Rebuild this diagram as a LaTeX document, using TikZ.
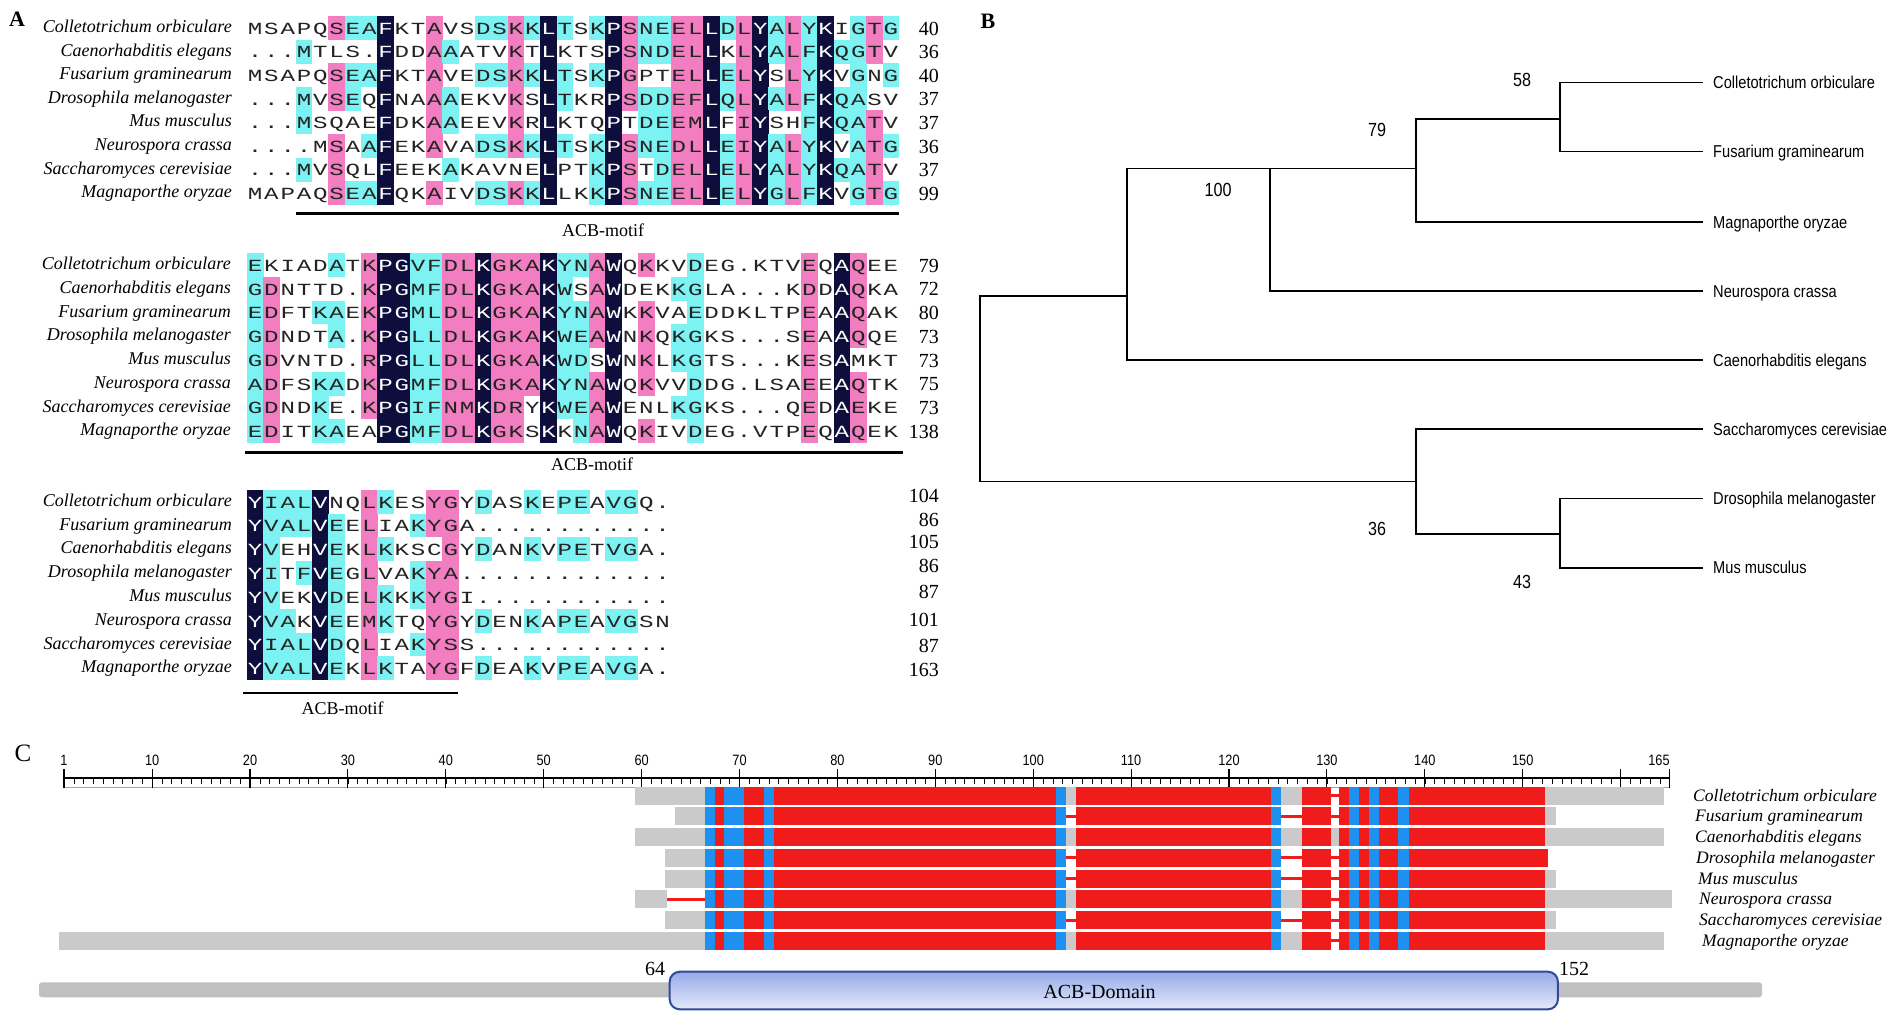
\documentclass[tikz,border=0pt]{standalone}
\usepackage{fontspec}
\setmainfont{Liberation Serif}
\newfontfamily\seqfont[FakeStretch=1.42]{Liberation Mono}
\newfontfamily\narrowsans[FakeStretch=0.85]{Liberation Sans}
\definecolor{alnavy}{RGB}{14,14,60}
\definecolor{alpink}{RGB}{242,125,192}
\definecolor{alcyan}{RGB}{125,242,242}
\definecolor{altext}{RGB}{35,35,35}
\definecolor{domred}{RGB}{240,28,28}
\definecolor{domblue}{RGB}{30,144,240}
\definecolor{domgray}{RGB}{202,202,202}
\definecolor{bargray}{RGB}{192,192,192}
\definecolor{boxtop}{RGB}{150,170,232}
\definecolor{boxbot}{RGB}{228,234,250}
\definecolor{boxedge}{RGB}{45,75,150}
\tikzset{
  seqtxt/.style={font=\seqfont\fontsize{17}{18}\selectfont, anchor=base, inner sep=0pt},
  namelbl/.style={font=\fontsize{18}{20}\selectfont\itshape, anchor=base east, inner sep=0pt},
  numlbl/.style={font=\fontsize{20}{22}\selectfont, anchor=base east, inner sep=0pt},
  motiflbl/.style={font=\fontsize{18}{20}\selectfont, anchor=base, inner sep=0pt},
  motifline/.style={line width=2.8pt},
  panellbl/.style={font=\fontsize{22}{24}\selectfont\bfseries, inner sep=0pt},
  panellblC/.style={font=\fontsize{25}{27}\selectfont, inner sep=0pt},
  treeline/.style={line width=1.7pt, line cap=rect},
  treelbl/.style={font=\narrowsans\fontsize{17.2}{19}\selectfont, anchor=base west, inner sep=0pt},
  bootlbl/.style={font=\narrowsans\fontsize{19}{21}\selectfont, inner sep=0pt},
  rulenum/.style={font=\narrowsans\fontsize{15}{17}\selectfont, inner sep=0pt},
  cname/.style={font=\fontsize{17.5}{19}\selectfont\itshape, anchor=base west, inner sep=0pt},
  domlbl/.style={font=\fontsize{20}{22}\selectfont, inner sep=0pt},
  redline/.style={domred, line width=3pt},
}
\ExplSyntaxOn
\tl_new:N \l_al_char_tl
\tl_new:N \l_al_col_tl
\NewDocumentCommand{\alrow}{m m m}
 {
  \int_step_inline:nn { \str_count:n {#2} }
   {
    \tl_set:Nx \l_al_char_tl { \str_item:nn {#2} {##1} }
    \tl_set:Nx \l_al_col_tl { \str_item:nn {#3} {##1} }
    \edef\alxl{\fp_eval:n{247+16.3*(##1-1)-0.2}}
    \edef\alxr{\fp_eval:n{247+16.3*(##1)+0.2}}
    \edef\alxc{\fp_eval:n{247+16.3*(##1-0.5)}}
    \edef\alyt{\fp_eval:n{#1-11.95}}
    \edef\alyb{\fp_eval:n{#1+11.95}}
    \edef\alybase{\fp_eval:n{#1+6.3}}
    \def\altextcol{altext}
    \str_if_eq:VnT \l_al_col_tl {n}
     { \fill[alnavy]~(\alxl,\alyt)~rectangle~(\alxr,\alyb); \def\altextcol{white} }
    \str_if_eq:VnT \l_al_col_tl {p}
     { \fill[alpink]~(\alxl,\alyt)~rectangle~(\alxr,\alyb); }
    \str_if_eq:VnT \l_al_col_tl {c}
     { \fill[alcyan]~(\alxl,\alyt)~rectangle~(\alxr,\alyb); }
    \node[seqtxt,text=\altextcol]~at~(\alxc,\alybase)~{\l_al_char_tl};
   }
 }
\ExplSyntaxOff
\begin{document}
\begin{tikzpicture}[x=1pt,y=-1pt]
\useasboundingbox (0,0) rectangle (1902,1017);
\fill[white] (0,0) rectangle (1902,1017);

% ---------------- Panel labels
\node[panellbl] (labA) at (17,19) {A};
\node[panellbl] (labB) at (988,21) {B};
\node[panellblC] (labC) at (23,753) {C};

% ---------------- Panel A, block 1
\alrow{28}{MSAPQSEAFKTAVSDSKKLTSKPSNEELLDLYALYKIGTG}{-----pccn--p--ccpcnc-cnpccppncpncpcn-cpc}
\alrow{51.6}{...MTLS.FDDAAATVKTLKTSPSNDELLKLYALFKQGTV}{---c----n--pc---p-n---npccppn-pncpcnccp-}
\alrow{75.2}{MSAPQSEAFKTAVEDSKKLTSKPGPTELLELYSLYKVGNG}{-----pccn--p--ccpcnc-cnp--ppncpn-pcn-c-c}
\alrow{98.8}{...MVSEQFNAAAEKVKSLTKRPSDDEFLQLYALFKQASV}{---c-pc-n--pc---p-nc--npccppncpncpcncc--}
\alrow{122.4}{...MSQAEFDKAAEEVKRLKTQPTDEEMLFIYSHFKQATV}{---c----n--pc---p-n---n-ccppn-pn--cnccp-}
\alrow{146}{....MSAAFEKAVADSKKLTSKPSNEDLLEIYALYKVATG}{-----p-cn--p--ccpcnc-cnpccppncpncpcn-cpc}
\alrow{169.6}{...MVSQLFEEKAKAVNELPTKPSTDELLELYALYKQATV}{---c-p--n---c-----n--cnp-cppncpncpcnccp-}
\alrow{193.2}{MAPAQSEAFQKAIVDSKKLLKKPSNEELLELYGLFKVGTG}{-----pccn--p--ccpcn--cnpccppncpncpcn-cpc}
\foreach \y/\nm [count=\k] in {28/Colletotrichum orbiculare, 51.6/Caenorhabditis elegans, 75.2/Fusarium graminearum, 98.8/Drosophila melanogaster, 122.4/Mus musculus, 146/Neurospora crassa, 169.6/Saccharomyces cerevisiae, 193.2/Magnaporthe oryzae}
  {\node[namelbl] (nmA\k) at (232,\y+4.5) {\nm};}
\foreach \y/\n [count=\k] in {28/40, 51.6/36, 75.2/40, 98.8/37, 122.4/37, 146/36, 169.6/37, 193.2/99}
  {\node[numlbl] (numA\k) at (939,\y+7) {\n};}
\coordinate (ulA1) at (296,213.3);
\coordinate (ulA2) at (899,213.3);
\draw[motifline] (ulA1) -- (ulA2);
\node[motiflbl] (motA) at (603,236.5) {ACB-motif};

% ---------------- Panel A, block 2
\alrow{265}{EKIADATKPGVFDLKGKAKYNAWQKKVDEG.KTVEQAQEE}{c----c-pnnccppnpppnccpn-p--c------p-np--}
\alrow{288.75}{GDNTTD.KPGMFDLKGKAKWSAWDEKKGLA...KDDAQKA}{cp-----pnnccppnpppnc-pn---cc------p-np--}
\alrow{312.5}{EDFTKAEKPGMLDLKGKAKYNAWKKVAEDDKLTPEAAQAK}{cp--cc-pnnccppnpppnccpn-p--c------p-np--}
\alrow{336.25}{GDNDTA.KPGLLDLKGKAKWEAWNKQKGKS...SEAAQQE}{cp---c-pnnccppnpppnccpn-p-cc------p-np--}
\alrow{360}{GDVNTD.RPGLLDLKGKAKWDSWNKLKGTS...KESAMKT}{cp-----pnnccppnpppncc-n-p-cc------p-n---}
\alrow{383.75}{ADFSKADKPGMFDLKGKAKYNAWQKVVDDG.LSAEEAQTK}{cp--cc-pnnccppnpppnccpn-p--c------p-np--}
\alrow{407.5}{GDNDKE.KPGIFNMKDRYKWEAWENLKGKS...QEDAEKE}{cp--c--pnnccppnpp-nccpn---cc------p-np--}
\alrow{431.25}{EDITKAEAPGMFDLKGKSKKNAWQKIVDEG.VTPEQAQEK}{cp--cc--nnccppnpp-n-cpn-p--c------p-np--}
\foreach \y/\nm [count=\k] in {265/Colletotrichum orbiculare, 288.75/Caenorhabditis elegans, 312.5/Fusarium graminearum, 336.25/Drosophila melanogaster, 360/Mus musculus, 383.75/Neurospora crassa, 407.5/Saccharomyces cerevisiae, 431.25/Magnaporthe oryzae}
  {\node[namelbl] (nmB\k) at (231,\y+4.5) {\nm};}
\foreach \y/\n [count=\k] in {265/79, 288.75/72, 312.5/80, 336.25/73, 360/73, 383.75/75, 407.5/73, 431.25/138}
  {\node[numlbl] (numB\k) at (939,\y+7) {\n};}
\coordinate (ulB1) at (245,452.7);
\coordinate (ulB2) at (903,452.7);
\draw[motifline] (ulB1) -- (ulB2);
\node[motiflbl] (motB) at (592,470) {ACB-motif};

% ---------------- Panel A, block 3
\alrow{501.7}{YIALVNQLKESYGYDASKEPEAVGQ.}{ncccn--pc--pp-c--c-cc-cc--}
\alrow{525.5}{YVALVEELIAKYGA............}{ncccnc-p--cpp-------------}
\alrow{549.3}{YVEHVEKLKKSCGYDANKVPETVGA.}{nc--nc-pc---p-c--c-cc-cc--}
\alrow{573.1}{YITFVEGLVAKYA.............}{nc-cnc-p--cpp-------------}
\alrow{596.9}{YVEKVDELKKKYGI............}{nc--nc-pc-cpp-------------}
\alrow{620.7}{YVAKVEEMKTQYGYDENKAPEAVGSN}{ncc-nc-pc--pp-c--c-cc-cc--}
\alrow{644.5}{YIALVDQLIAKYSS............}{ncccnc-p--cpp-------------}
\alrow{668.3}{YVALVEKLKTAYGFDEAKVPEAVGA.}{ncccnc-pc--pp-c--c-cc-cc--}
\foreach \y/\nm [count=\k] in {501.7/Colletotrichum orbiculare, 525.5/Fusarium graminearum, 549.3/Caenorhabditis elegans, 573.1/Drosophila melanogaster, 596.9/Mus musculus, 620.7/Neurospora crassa, 644.5/Saccharomyces cerevisiae, 668.3/Magnaporthe oryzae}
  {\node[namelbl] (nmC\k) at (232,\y+4.5) {\nm};}
\foreach \y/\n [count=\k] in {502/104, 526/86, 548.3/105, 572.7/86, 598.3/87, 626/101, 652.7/87, 676.7/163}
  {\node[numlbl] (numC\k) at (939,\y) {\n};}
\coordinate (ulC1) at (243,693);
\coordinate (ulC2) at (458,693);
\draw[motifline] (ulC1) -- (ulC2);
\node[motiflbl] (motC) at (342.5,714.5) {ACB-motif};

% ---------------- Panel B, tree
\coordinate (nR) at (980,388.8);
\coordinate (nA) at (1127,296);
\coordinate (nB) at (1270,168.6);
\coordinate (nC) at (1416,168.6);
\coordinate (nD) at (1560,119);
\coordinate (nE) at (1416,481.6);
\coordinate (nF) at (1560,533.7);
\coordinate (lCo) at (1702,82.5);
\coordinate (lFu) at (1702,151.6);
\coordinate (lMa) at (1702,222);
\coordinate (lNe) at (1702,291);
\coordinate (lCa) at (1702,360);
\coordinate (lSa) at (1702,429);
\coordinate (lDr) at (1702,498.5);
\coordinate (lMu) at (1702,567.7);
\draw[treeline] (nA) -| (nR) |- (nE);
\draw[treeline] (nB) -| (nA) |- (lCa);
\draw[treeline] (nC) -- (nB) |- (lNe);
\draw[treeline] (nD) -| (nC) |- (lMa);
\draw[treeline] (lCo) -| (nD) |- (lFu);
\draw[treeline] (lSa) -| (nE) |- (nF);
\draw[treeline] (lDr) -| (nF) |- (lMu);
\node[treelbl] (tCo) at (1713,88.5) {Colletotrichum orbiculare};
\node[treelbl] (tFu) at (1713,157.6) {Fusarium graminearum};
\node[treelbl] (tMa) at (1713,228) {Magnaporthe oryzae};
\node[treelbl] (tNe) at (1713,297) {Neurospora crassa};
\node[treelbl] (tCa) at (1713,366) {Caenorhabditis elegans};
\node[treelbl] (tSa) at (1713,435) {Saccharomyces cerevisiae};
\node[treelbl] (tDr) at (1713,504.5) {Drosophila melanogaster};
\node[treelbl] (tMu) at (1713,573.7) {Mus musculus};
\node[bootlbl] (b58) at (1522,80) {58};
\node[bootlbl] (b79) at (1377,130) {79};
\node[bootlbl] (b100) at (1218,190) {100};
\node[bootlbl] (b36) at (1377,529) {36};
\node[bootlbl] (b43) at (1522,582) {43};

% ---------------- Panel C, ruler
\draw[line width=1.1pt] (64,778) -- (1669.6,778);
\draw[line width=0.5pt, black!35] (64,787.5) -- (1669.6,787.5);
\foreach \u in {1,...,165} {\draw[line width=0.55pt] ({64+(\u-1)*9.79},778) -- ++(0,6);}
\foreach \u in {10,20,...,160} {\draw[line width=1.1pt] ({64+(\u-1)*9.79},769) -- ++(0,19);}
\draw[line width=1.1pt] (64,769) -- ++(0,19);
\draw[line width=1.1pt] (1669.6,769) -- ++(0,19);
\node[rulenum] (r1) at (64,760) {1};
\foreach \u in {10,20,...,150} {\node[rulenum] (r\u) at ({64+(\u-1)*9.79},760) {\u};}
\node[rulenum] (r165) at (1659,760) {165};

% ---------------- Panel C, domain bars
\foreach \i/\gS/\gE/\gA/\gC in {0/635/1664/1/0, 1/675/1556/0/0, 2/635/1664/1/1, 3/665/0/0/0, 4/665/1556/0/0, 5/635/1672/1/0, 6/665/1556/0/0, 7/59/1664/1/0}{
  \pgfmathsetmacro\yt{786.5+20.75*\i}
  \pgfmathsetmacro\yb{\yt+18}
  \pgfmathsetmacro\yc{\yt+9}
  \ifnum\i=5
    \fill[domgray] (635,\yt) rectangle (667,\yb);
    \draw[redline] (667,\yc) -- (705,\yc);
  \else
    \fill[domgray] (\gS,\yt) rectangle (705,\yb);
  \fi
  \ifnum\gE>0 \fill[domgray] (1545,\yt) rectangle (\gE,\yb); \fi
  \foreach \a/\b in {715/724, 744/764, 774/1056, 1076/1271, 1302/1331, 1339/1349, 1359/1369, 1379/1398, 1409/1545}
    {\fill[domred] (\a-0.2,\yt) rectangle (\b+0.2,\yb);}
  \ifnum\i=3 \fill[domred] (1544,\yt) rectangle (1547.5,\yb); \fi
  \foreach \a/\b in {705/715, 724/744, 764/774, 1056/1066, 1271/1281, 1349/1359, 1369/1379, 1398/1409}
    {\fill[domblue] (\a,\yt) rectangle (\b,\yb);}
  \ifnum\gA=1
    \fill[domgray] (1066,\yt) rectangle (1076,\yb);
    \fill[domgray] (1281,\yt) rectangle (1302,\yb);
  \else
    \draw[redline] (1066,\yc) -- (1076,\yc);
    \draw[redline] (1281,\yc) -- (1302,\yc);
  \fi
  \ifnum\gC=1
    \fill[domgray] (1331,\yt) rectangle (1339,\yb);
  \else
    \draw[redline] (1331,\yc) -- (1339,\yc);
  \fi
}
\foreach \nm/\xx [count=\k from 0] in {Colletotrichum orbiculare/1693, Fusarium graminearum/1695, Caenorhabditis elegans/1695, Drosophila melanogaster/1696, Mus musculus/1698, Neurospora crassa/1699, Saccharomyces cerevisiae/1699, Magnaporthe oryzae/1702}
  {\node[cname] (cn\k) at (\xx,{786.5+20.75*\k+9+5.6}) {\nm};}

% ---------------- ACB domain
\fill[bargray, rounded corners=3pt] (39,982.3) rectangle (1762,997.3);
\path[draw=boxedge, line width=2pt, top color=boxtop, bottom color=boxbot, rounded corners=10pt] (669.7,971.7) rectangle (1557.9,1009.3);
\node[domlbl] (dom) at (1099.5,991.5) {ACB-Domain};
\node[domlbl] (d64) at (655,969.3) {64};
\node[domlbl] (d152) at (1574,969.3) {152};
\end{tikzpicture}
\end{document}
